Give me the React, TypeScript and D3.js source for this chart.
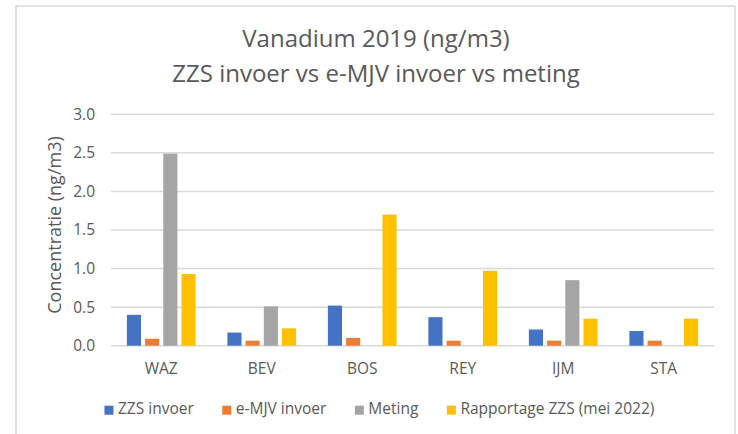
import React, { useEffect, useRef } from 'react'
import * as d3 from 'd3'

const categories = ['WAZ', 'BEV', 'BOS', 'REY', 'IJM', 'STA']
const seriesNames = ['ZZS invoer', 'e-MJV invoer', 'Meting', 'Rapportage ZZS (mei 2022)']
const zzsInvoer = [0.4, 0.17, 0.52, 0.37, 0.21, 0.19]
const emjvInvoer = [0.09, 0.065, 0.1, 0.065, 0.065, 0.065]
const meting = [2.49, 0.51, null, null, 0.85, null]
const rapportage = [0.93, 0.225, 1.7, 0.97, 0.35, 0.35]
const yTicks = [0, 0.5, 1, 1.5, 2, 2.5, 3]
const seriesColors = ['#4472C4', '#ED7D31', '#A5A5A5', '#FFC000']

const titleLines = ['Vanadium 2019 (ng/m3)', 'ZZS invoer vs e-MJV invoer vs meting']
const yTitle = 'Concentratie (ng/m3)'

const App: React.FC = () => {
  const svgRef = useRef<SVGSVGElement>(null)

  const width = 738
  const height = 434
  const font = "'Open Sans', 'DejaVu Sans', sans-serif"
  const textColor = '#595959'

  useEffect(() => {
    if (!svgRef.current) return
    const svg = d3.select(svgRef.current)
    svg.selectAll('*').remove()

    const plot = { left: 111, right: 714, top: 114.3, bottom: 345.7 }
    const allSeries = [zzsInvoer, emjvInvoer, meting, rapportage]

    // chart border
    svg
      .append('rect')
      .attr('x', 16)
      .attr('y', 6)
      .attr('width', 719)
      .attr('height', 440)
      .attr('fill', '#ffffff')
      .attr('stroke', '#D9D9D9')
      .attr('stroke-width', 1.5)

    const xScale = d3.scaleBand<string>().domain(categories).range([plot.left, plot.right])
    const groupPad = xScale.bandwidth() * 0.158
    const inner = d3
      .scaleBand<number>()
      .domain(d3.range(seriesNames.length))
      .range([groupPad, xScale.bandwidth() - groupPad])
      .paddingInner(0.225)
    const yScale = d3.scaleLinear().domain([0, 3]).range([plot.bottom, plot.top])

    // gridlines
    svg
      .append('g')
      .selectAll('line')
      .data(yTicks)
      .enter()
      .append('line')
      .attr('x1', plot.left)
      .attr('x2', plot.right)
      .attr('y1', (d) => yScale(d))
      .attr('y2', (d) => yScale(d))
      .attr('stroke', '#D9D9D9')
      .attr('stroke-width', 1.5)

    // y tick labels
    svg
      .append('g')
      .selectAll('text')
      .data(yTicks)
      .enter()
      .append('text')
      .attr('x', 95)
      .attr('y', (d) => yScale(d))
      .attr('dy', '0.35em')
      .attr('text-anchor', 'end')
      .style('font-family', font)
      .style('font-size', '15.5px')
      .attr('fill', textColor)
      .text((d) => d3.format('.1f')(d))

    // bars
    allSeries.forEach((values, s) => {
      svg
        .append('g')
        .selectAll('rect')
        .data(values.map((v, i) => ({ cat: categories[i], v })))
        .enter()
        .filter((d) => d.v != null)
        .append('rect')
        .attr('x', (d) => (xScale(d.cat) ?? 0) + (inner(s) ?? 0))
        .attr('y', (d) => yScale(d.v as number))
        .attr('width', inner.bandwidth())
        .attr('height', (d) => yScale(0) - yScale(d.v as number))
        .attr('fill', seriesColors[s])
    })

    // category labels
    svg
      .append('g')
      .selectAll('text')
      .data(categories)
      .enter()
      .append('text')
      .attr('x', (d) => (xScale(d) ?? 0) + xScale.bandwidth() / 2)
      .attr('y', 374)
      .attr('text-anchor', 'middle')
      .style('font-family', font)
      .style('font-size', '15.5px')
      .attr('fill', textColor)
      .text((d) => d)

    // y axis title
    svg
      .append('text')
      .attr('transform', 'translate(61, 225) rotate(-90)')
      .attr('text-anchor', 'middle')
      .style('font-family', font)
      .style('font-size', '18px')
      .attr('fill', textColor)
      .text(yTitle)

    // chart title
    svg
      .append('g')
      .selectAll('text')
      .data(titleLines)
      .enter()
      .append('text')
      .attr('x', 376)
      .attr('y', (d, i) => 46.7 + i * 35)
      .attr('text-anchor', 'middle')
      .style('font-family', font)
      .style('font-size', '24px')
      .attr('fill', textColor)
      .text((d) => d)

    // legend
    const legend = svg.append('g')
    let x = 0
    seriesNames.forEach((name, i) => {
      const item = legend.append('g').attr('transform', `translate(${x}, 0)`)
      item
        .append('rect')
        .attr('x', 0)
        .attr('y', 405.7)
        .attr('width', 9)
        .attr('height', 9)
        .attr('fill', seriesColors[i])
      const t = item
        .append('text')
        .attr('x', 13.5)
        .attr('y', 414.3)
        .style('font-family', font)
        .style('font-size', '15.5px')
        .attr('fill', textColor)
        .text(name)
      const w = (t.node() as SVGTextElement).getComputedTextLength()
      x += 13.5 + w + 28.5
    })
    const total = x - 28.5
    legend.attr('transform', `translate(${379.4 - total / 2}, 0)`)
  }, [])

  return (
    <svg
      ref={svgRef}
      width={width}
      height={height}
      style={{ position: 'absolute', left: 0, top: 0, display: 'block' }}
    ></svg>
  )
}

export default App
